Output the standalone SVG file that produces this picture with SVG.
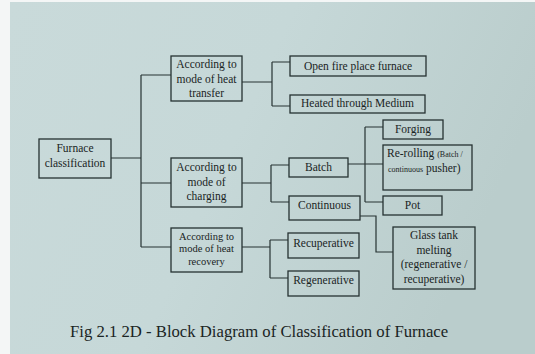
<svg xmlns="http://www.w3.org/2000/svg" width="535" height="354" viewBox="0 0 535 354">
<defs>
<linearGradient id="bg" x1="0" y1="0" x2="1" y2="0.3">
<stop offset="0" stop-color="#c9dada"/>
<stop offset="0.5" stop-color="#c6d8d8"/>
<stop offset="1" stop-color="#bacdcc"/>
</linearGradient>
<style>
.b{fill:none;stroke:#263232;stroke-width:1.3}
.c{fill:none;stroke:#263232;stroke-width:1.2}
text{font-family:"Liberation Serif","Times New Roman",serif;fill:#1a2424;font-size:11.5px;text-anchor:middle}
.s{font-size:10.5px}
.t{font-size:8px}
.cap{font-size:16.7px;text-anchor:start}
</style>
</defs>
<rect width="535" height="354" fill="#f4f6f6"/>
<rect x="10" y="2" width="525" height="352" fill="url(#bg)"/>
<g id="connectors" class="c">
<path d="M111 158H141M141 75V247M141 75H171M141 183H171M141 247H171"/>
<path d="M242 82H272M272 62V106M272 62H290M272 106H290"/>
<path d="M242 183H271M271 165V202M271 165H289M271 202H289"/>
<path d="M348 164H383M365 127V202M365 127H383M365 202H383"/>
<path d="M360 216H376V252H393"/>
<path d="M242 247H270M270 240V278M270 240H288M270 278H288"/>
</g>
<g id="furnace"><rect class="b" x="39" y="139" width="72" height="39"/><text x="75" y="152">Furnace</text><text x="75" y="167">classification</text></g>
<g id="transfer"><rect class="b" x="171" y="56" width="71" height="45"/><text x="206.5" y="68">According to</text><text x="206.5" y="83">mode of heat</text><text x="206.5" y="97">transfer</text></g>
<g id="charging"><rect class="b" x="171" y="158" width="71" height="49"/><text x="206.5" y="171">According to</text><text x="206.5" y="186">mode of</text><text x="206.5" y="200">charging</text></g>
<g id="recovery"><rect class="b" x="171" y="228" width="71" height="44"/><text class="s" x="206.5" y="240">According to</text><text class="s" x="206.5" y="252">mode of heat</text><text class="s" x="206.5" y="265">recovery</text></g>
<g id="openfire"><rect class="b" x="290" y="56" width="136" height="20"/><text x="358" y="70">Open fire place furnace</text></g>
<g id="heated"><rect class="b" x="290" y="95" width="135" height="18"/><text x="357.5" y="107">Heated through Medium</text></g>
<g id="batch"><rect class="b" x="289" y="158" width="59" height="19"/><text x="318.5" y="171">Batch</text></g>
<g id="continuous"><rect class="b" x="289" y="196" width="71" height="24"/><text x="324.5" y="209">Continuous</text></g>
<g id="forging"><rect class="b" x="383" y="120" width="60" height="19"/><text x="413" y="133">Forging</text></g>
<g id="rerolling"><rect class="b" x="383" y="145" width="89" height="45"/><text style="text-anchor:start" x="387" y="157">Re-rolling <tspan class="t">(Batch /</tspan></text><text style="text-anchor:start" x="388" y="172"><tspan class="t">continuous</tspan> pusher)</text></g>
<g id="pot"><rect class="b" x="383" y="196" width="59" height="19"/><text x="412.5" y="209">Pot</text></g>
<g id="glass"><rect class="b" x="393" y="227" width="82" height="62"/><text x="434" y="239">Glass tank</text><text x="434" y="254">melting</text><text x="434" y="268">(regenerative /</text><text x="434" y="283">recuperative)</text></g>
<g id="recuperative"><rect class="b" x="288" y="233" width="71" height="25"/><text x="323.5" y="247">Recuperative</text></g>
<g id="regenerative"><rect class="b" x="288" y="271" width="71" height="25"/><text x="323.5" y="284">Regenerative</text></g>
<text class="cap" x="70" y="337">Fig 2.1 2D - Block Diagram of Classification of Furnace</text>
</svg>
